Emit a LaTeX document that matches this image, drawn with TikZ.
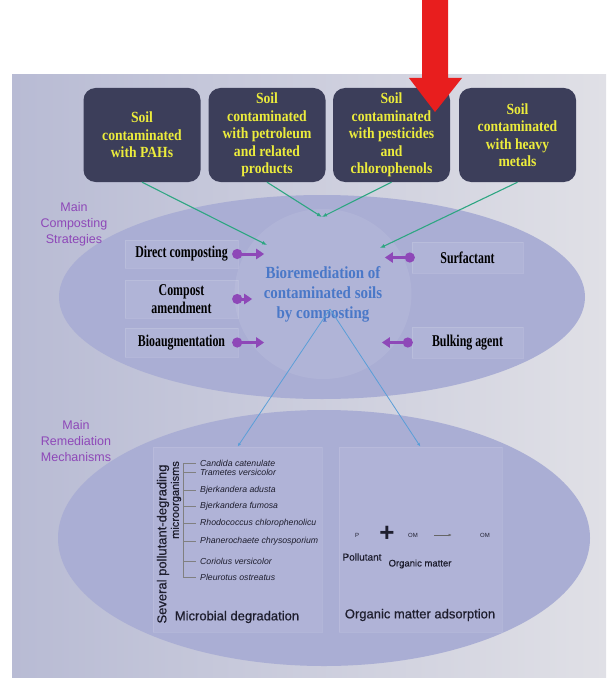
\documentclass[tikz,border=0pt]{standalone}
\usepackage{fontspec}
\setmainfont{Liberation Sans}
\newfontfamily\boxfont[FakeStretch=0.88]{Liberation Serif}
\newfontfamily\tagfont[FakeStretch=0.72]{Liberation Serif}
\newfontfamily\capfont[FakeBold=0.6]{Liberation Sans}
\usetikzlibrary{arrows.meta}
\usetikzlibrary{shapes.geometric}

\definecolor{slate}{RGB}{60,62,90}
\definecolor{soilyellow}{RGB}{236,236,60}
\definecolor{lilac}{RGB}{170,174,212}
\definecolor{mauve}{RGB}{142,72,184}
\definecolor{linkgreen}{RGB}{46,166,130}
\definecolor{centreblue}{RGB}{74,120,200}
\definecolor{thinblue}{RGB}{90,158,216}
\definecolor{alarm}{RGB}{232,30,30}
\definecolor{ink}{RGB}{30,30,46}

\begin{document}
\begin{tikzpicture}[x=1pt, y=-1pt,
	soil/.style={fill=slate, rounded corners=12pt, minimum width=117pt, minimum height=94pt,
		align=center, text=soilyellow, font=\boxfont\bfseries\fontsize{15.5}{17.5}\selectfont},
	feed/.style={draw=linkgreen, line width=1.1pt, -{Latex[length=5pt,width=4pt]}},
	strat/.style={fill=white, fill opacity=0.08, draw=white, draw opacity=0.12, text opacity=1,
		minimum width=113pt, align=center, text=black, font=\tagfont\bfseries\fontsize{16.5}{18.5}\selectfont},
	hook/.style={draw=mauve, line width=3pt, {Circle[length=10pt]}-{Triangle[length=8pt,width=10pt]}},
	mech/.style={text=mauve, align=center, font=\fontsize{12.5}{16}\selectfont},
	probe/.style={draw=thinblue, line width=0.8pt, -{Latex[length=4pt,width=3pt]}},
	panel/.style={fill=white, fill opacity=0.07, draw=white, draw opacity=0.1},
	species/.style={anchor=west, inner sep=0pt, text=ink, font=\itshape\fontsize{8.7}{10}\selectfont},
	twig/.style={draw=black!50, line width=0.5pt},
	small/.style={text=ink, font=\fontsize{6}{7}\selectfont}]
	\useasboundingbox (0,0) rectangle (608,679);

	% slide and the two fields
	\shade[left color={rgb,255:red,184;green,187;blue,212}, right color={rgb,255:red,224;green,224;blue,230}] (12,75) rectangle (606,677);
	\fill[lilac] (322,297) ellipse [x radius=263pt, y radius=102pt];
	\fill[lilac] (324,538) ellipse [x radius=266pt, y radius=128pt];

	\node[ellipse, fill=white, fill opacity=0.08, text opacity=1, minimum width=144pt, minimum height=170pt,
		align=center, text=centreblue, font=\boxfont\bfseries\fontsize{17}{20}\selectfont] (bio) at (323,294)
		{Bioremediation of\\contaminated soils\\by composting};

	% contaminated soils
	\node[soil] (pah) at (142,135) {Soil\\contaminated\\with PAHs};
	\node[soil] (petro) at (267,135) {Soil\\contaminated\\with petroleum\\and related\\products};
	\node[soil] (pest) at (391.5,135) {Soil\\contaminated\\with pesticides\\and\\chlorophenols};
	\node[soil] (metal) at (517.5,135) {Soil\\contaminated\\with heavy\\metals};

	\coordinate (inL) at (267,245);
	\coordinate (inT) at (322,217);
	\coordinate (inR) at (380,248);
	\draw[feed] (pah.south) -- (inL);
	\draw[feed] (petro.south) -- (inT);
	\draw[feed] (pest.south) -- (inT);
	\draw[feed] (metal.south) -- (inR);

	% strategies
	\node[mech] (mcs) at (74,224) {Main\\Composting\\Strategies};
	\node[strat, minimum height=28pt] (dc) at (181.5,254) {Direct composting};
	\node[strat, minimum height=38pt] (ca) at (181.5,299) {Compost\\amendment};
	\node[strat, minimum height=29pt] (ba) at (181.5,342.5) {Bioaugmentation};
	\node[strat, minimum width=111pt, minimum height=31pt] (sf) at (467.5,257.5) {Surfactant};
	\node[strat, minimum width=111pt, minimum height=31pt] (bk) at (467.5,342.5) {Bulking agent};

	\draw[hook] ([xshift=-6pt]dc.east) -- ([xshift=26pt]dc.east);
	\draw[hook] ([xshift=-6pt]ca.east) -- ([xshift=14pt]ca.east);
	\draw[hook] ([xshift=-6pt]ba.east) -- ([xshift=26pt]ba.east);
	\draw[hook] ([xshift=3pt]sf.west) -- ([xshift=-27pt]sf.west);
	\draw[hook] ([xshift=1pt]bk.west) -- ([xshift=-30pt]bk.west);

	% mechanisms
	\node[mech] (mrm) at (76,441) {Main\\Remediation\\Mechanisms};
	\node[panel, minimum width=169pt, minimum height=185pt] (micro) at (237.5,539.5) {};
	\node[panel, minimum width=163pt, minimum height=185pt] (adsorb) at (420.5,539.5) {};

	\draw[probe] ([xshift=7pt,yshift=-15pt]bio.center) -- (micro.north);
	\draw[probe] ([xshift=7pt,yshift=-15pt]bio.center) -- (adsorb.north);

	\node[rotate=90, text=ink, font=\capfont\fontsize{13}{15}\selectfont] (sev) at (163,544) {Several pollutant-degrading};
	\node[rotate=90, text=ink, font=\capfont\fontsize{11}{13}\selectfont] (orgs) at (176,500) {microorganisms};

	\draw[twig] (183,463) -- (183,577);
	\foreach \y/\name [count=\i] in {463/Candida catenulate, 472/Trametes versicolor,
		490/Bjerkandera adusta, 506/Bjerkandera fumosa, 523/Rhodococcus chlorophenolicu,
		541/Phanerochaete chrysosporium, 561/Coriolus versicolor, 577/Pleurotus ostreatus}
	{
		\node[species] (sp\i) at (200,\y) {\name};
		\draw[twig, shorten >=4pt] (183,\y) -- (sp\i.west);
	}
	\node[text=ink, font=\capfont\fontsize{13}{15}\selectfont] (mdeg) at (237,617) {Microbial degradation};

	\node[small] (p) at (357,535) {P};
	\node[text=ink, font=\bfseries\fontsize{26}{26}\selectfont] (plus) at (387,534) {+};
	\node[small] (om1) at (413,535) {OM};
	\node[small] (om2) at (485,535) {OM};
	\draw[black!60, line width=0.4pt, -{Latex[length=3pt,width=2.5pt]}] ([xshift=13pt]om1.east) -- ([xshift=-25pt]om2.west);
	\node[text=ink, font=\capfont\fontsize{10}{12}\selectfont] (pol) at (362,557) {Pollutant};
	\node[text=ink, font=\capfont\fontsize{9.5}{12}\selectfont] (orgm) at (420,564) {Organic matter};
	\node[text=ink, font=\capfont\fontsize{13}{15}\selectfont] (omads) at (420,615) {Organic matter adsorption};

	% red pointer
	\fill[alarm] (422,0) -- (448,0) -- (448,78) -- (462,78) -- (435,112) -- (409,78) -- (422,78) -- cycle;
\end{tikzpicture}
\end{document}
